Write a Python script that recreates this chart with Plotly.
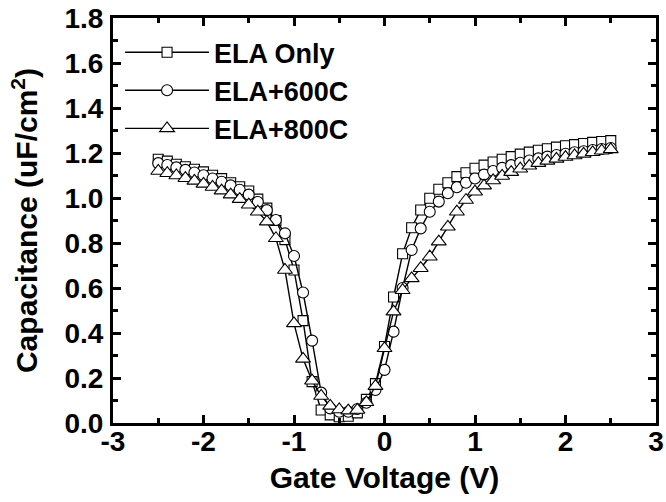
import plotly.graph_objects as go

gate_voltage = [round(-2.5 + 0.1 * i, 1) for i in range(51)]

ela_only = [1.172, 1.164, 1.150, 1.139, 1.128, 1.116, 1.101, 1.086, 1.068, 1.050,
            1.031, 0.995, 0.955, 0.900, 0.815, 0.680, 0.455, 0.184, 0.058, 0.036,
            0.028, 0.030, 0.045, 0.105, 0.175, 0.340, 0.560, 0.752, 0.868, 0.947,
            0.999, 1.039, 1.068, 1.095, 1.112, 1.132, 1.146, 1.160, 1.172, 1.184,
            1.195, 1.204, 1.212, 1.219, 1.226, 1.232, 1.237, 1.242, 1.247, 1.251,
            1.255]

ela_600c = [1.155, 1.147, 1.136, 1.125, 1.113, 1.101, 1.087, 1.072, 1.056, 1.037,
            1.015, 0.982, 0.946, 0.902, 0.843, 0.742, 0.580, 0.366, 0.135, 0.065,
            0.050, 0.050, 0.062, 0.090, 0.147, 0.236, 0.406, 0.600, 0.769, 0.865,
            0.939, 0.984, 1.021, 1.048, 1.068, 1.087, 1.104, 1.120, 1.134, 1.146,
            1.157, 1.167, 1.176, 1.184, 1.191, 1.197, 1.203, 1.208, 1.213, 1.218,
            1.222]

ela_800c = [1.120, 1.110, 1.100, 1.088, 1.076, 1.063, 1.049, 1.033, 1.015, 0.995,
            0.970, 0.939, 0.895, 0.821, 0.680, 0.443, 0.285, 0.188, 0.120, 0.076,
            0.060, 0.055, 0.058, 0.092, 0.164, 0.332, 0.495, 0.590, 0.643, 0.688,
            0.739, 0.806, 0.872, 0.939, 0.991, 1.028, 1.055, 1.078, 1.098, 1.115,
            1.130, 1.143, 1.155, 1.165, 1.174, 1.182, 1.189, 1.196, 1.203, 1.210,
            1.216]

series_names = ["ELA Only", "ELA+600C", "ELA+800C"]
x_tick_vals = [-3, -2, -1, 0, 1, 2, 3]
x_tick_text = ["-3", "-2", "-1", "0", "1", "2", "3"]
y_tick_vals = [0.0, 0.2, 0.4, 0.6, 0.8, 1.0, 1.2, 1.4, 1.6, 1.8]
y_tick_text = ["0.0", "0.2", "0.4", "0.6", "0.8", "1.0", "1.2", "1.4", "1.6", "1.8"]

FONT = "Liberation Sans, Arial, sans-serif"

fig = go.Figure()
styles = [("square", 10), ("circle", 11), ("triangle-up", 13)]
for name, ys, (sym, sz) in zip(series_names, [ela_only, ela_600c, ela_800c], styles):
    fig.add_trace(go.Scatter(
        x=gate_voltage, y=ys, name=name, mode="lines+markers", legendgroup=name,
        line=dict(color="black", width=1.4),
        marker=dict(symbol=sym, size=sz, color="white",
                    line=dict(color="black", width=1.1)),
    ))

axis_common = dict(
    showline=True, linecolor="black", linewidth=3, mirror="allticks",
    ticks="inside", ticklen=8, tickwidth=3, tickcolor="black",
    showgrid=False, zeroline=False, automargin=False,
    tickfont=dict(family=FONT, size=28, color="black", weight="bold"),
)

fig.update_xaxes(
    range=[-3, 3], tickvals=x_tick_vals, ticktext=x_tick_text,
    ticklabelstandoff=-9,
    minor=dict(ticks="inside", ticklen=5, tickwidth=2.5, tickcolor="black", dtick=0.5, tick0=0),
    title=dict(text="Gate Voltage (V)", standoff=12,
               font=dict(family=FONT, size=30, color="black", weight="bold")),
    **axis_common,
)
fig.update_yaxes(
    range=[0, 1.8], tickvals=y_tick_vals, ticktext=y_tick_text,
    ticklabelstandoff=1,
    minor=dict(ticks="inside", ticklen=5, tickwidth=2.5, tickcolor="black", dtick=0.1, tick0=0),
    title=dict(text="Capacitance (uF/cm<sup>2</sup>)", standoff=18,
               font=dict(family=FONT, size=30, color="black", weight="bold")),
    **axis_common,
)

fig.update_layout(
    width=666, height=502,
    margin=dict(l=113, r=10, t=18, b=79),
    paper_bgcolor="white", plot_bgcolor="white",
    showlegend=True,
    legend=dict(x=0.013, y=0.975, xanchor="left", yanchor="top",
                bgcolor="rgba(0,0,0,0)", borderwidth=0,
                font=dict(family=FONT, size=27, color="black", weight="bold"),
                tracegroupgap=0, itemwidth=84),
)

fig.write_html("out.html", config={"displayModeBar": False},
               post_script="document.body.style.margin='0';")
